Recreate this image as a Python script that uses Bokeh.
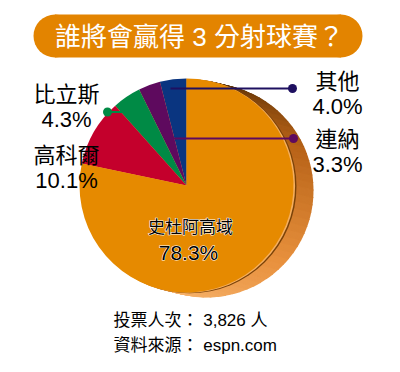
import numpy as np
from bokeh.plotting import figure
from bokeh.models import ColumnDataSource, Range1d
from bokeh.core.properties import value
from bokeh.embed import file_html
from bokeh.resources import INLINE

# ---- data ----
title = "誰將會贏得 3 分射球賽？"
names = ["其他", "連納", "比立斯", "高科爾", "史杜阿高域"]
shares = [4.0, 3.3, 4.3, 10.1, 78.3]
pct_labels = ["4.0%", "3.3%", "4.3%", "10.1%", "78.3%"]
colors = ["#0A3580", "#5E0A5E", "#008A45", "#C4002C", "#E68A00"]
footer_lines = ["投票人次： 3,826 人", "資料來源： espn.com"]

W, H = 400, 372
FONT = "Liberation Sans, Noto Sans CJK TC"

p = figure(width=W, height=H, x_range=Range1d(0, W), y_range=Range1d(0, H),
           output_backend="svg", toolbar_location=None, min_border=0,
           x_axis_location=None, y_axis_location=None)
p.grid.visible = False
p.outline_line_color = None
p.background_fill_color = "white"
p.border_fill_color = "white"

def Y(py):
    return H - py

# ---- title pill ----
tx0, tx1, ty, tr = 33, 362, 35.5, 21.5
p.quad(left=[tx0 + tr], right=[tx1 - tr], bottom=[Y(ty) - tr], top=[Y(ty) + tr],
       fill_color="#E38400", line_color=None)
p.circle(x=[tx0 + tr, tx1 - tr], y=[Y(ty), Y(ty)], radius=tr,
         fill_color="#E38400", line_color=None)
p.text(x=[199], y=[Y(36)], text=[title], text_color="white",
       text_font=value(FONT), text_font_size="26px",
       text_align="center", text_baseline="middle")

# ---- pie geometry ----
cx, cy, r = 186, Y(185), 107
fr = np.array(shares) / sum(shares)
ends = np.pi / 2 + 2 * np.pi * np.cumsum(fr)
starts = np.concatenate([[np.pi / 2], ends[:-1]])

# extrusion (3D side)
def shade(a_deg):
    a = (a_deg + 180) % 360 - 180
    t = np.clip((76 - a) / 180.0, 0, 1)
    stops_t = [0, 0.3, 0.65, 1.0]
    stops_c = [(95, 52, 8), (185, 100, 25), (232, 145, 62), (248, 182, 112)]
    rgb = [np.interp(t, stops_t, [c[i] for c in stops_c]) for i in range(3)]
    return "#%02x%02x%02x" % tuple(int(v) for v in rgb)

N, M = 18, 90
DX, DY = 20, -5
seg = np.linspace(0, 2 * np.pi, M + 1)
sx, sy, sa0, sa1, sc = [], [], [], [], []
for k in range(N, 3, -1):
    for i in range(M):
        sx.append(cx + DX * k / N)
        sy.append(cy + DY * k / N)
        sa0.append(seg[i])
        sa1.append(seg[i + 1] + 0.01)
        sc.append(shade(np.degrees((seg[i] + seg[i + 1]) / 2)))
p.wedge(x="x", y="y", radius=r, start_angle="a0", end_angle="a1",
        fill_color="c", line_color=None,
        source=ColumnDataSource(dict(x=sx, y=sy, a0=sa0, a1=sa1, c=sc)))
p.circle(x=[cx + 3], y=[cy - 0.8], radius=r, fill_color="#7A4208", line_color=None)
p.circle(x=[cx + 1.6], y=[cy - 0.4], radius=r, fill_color="#F5AE5E", line_color=None)

# face
p.wedge(x=cx, y=cy, radius=r, start_angle="s", end_angle="e",
        fill_color="c", line_color=None,
        source=ColumnDataSource(dict(s=starts, e=ends, c=colors)))

# ---- connectors ----
p.line(x=[170, 292], y=[Y(88), Y(88)], line_color="#1E1060", line_width=2)
p.circle(x=[292], y=[Y(88)], radius=4.5, fill_color="#1E1060", line_color=None)
p.line(x=[165, 293], y=[Y(138), Y(138)], line_color="#5E0A5E", line_width=2)
p.circle(x=[293], y=[Y(138)], radius=4.5, fill_color="#5E0A5E", line_color=None)
p.line(x=[107, 124], y=[Y(111.5), Y(111.5)], line_color="#008A45", line_width=2)
p.circle(x=[107], y=[Y(111.5)], radius=4.5, fill_color="#008A45", line_color=None)

# ---- labels ----
lab_x = [337, 337, 66, 66]
lab_y = [81, 139, 94, 155]
for i in range(4):
    p.text(x=[lab_x[i]], y=[Y(lab_y[i])], text=[names[i]], text_color="black",
           text_font=value(FONT), text_font_size="22px",
           text_align="center", text_baseline="middle")
    p.text(x=[lab_x[i]], y=[Y(lab_y[i] + 24.5)], text=[pct_labels[i]], text_color="black",
           text_font=value(FONT), text_font_size="22px",
           text_align="center", text_baseline="middle")

# center label with white halo (halo layer underneath, black text on top)
center_specs = [(190, 227, names[4], "17px"), (188, 252, pct_labels[4], "21px")]
for (x, y, t, fs) in center_specs:
    halo = p.text(x=[x], y=[Y(y)], text=[t], text_color="white",
                  text_font=value(FONT), text_font_size=fs,
                  text_align="center", text_baseline="middle",
                  text_outline_color="white")
    halo.glyph.text_outline_color = "white"
for (x, y, t, fs) in center_specs:
    p.text(x=[x], y=[Y(y)], text=[t], text_color="black",
           text_font=value(FONT), text_font_size=fs,
           text_align="center", text_baseline="middle")

# ---- footer ----
for j, line in enumerate(footer_lines):
    p.text(x=[113], y=[Y(320 + 25 * j)], text=[line], text_color="black",
           text_font=value(FONT), text_font_size="17px",
           text_align="left", text_baseline="middle")

open("out.html", "w").write(file_html(p, INLINE))
